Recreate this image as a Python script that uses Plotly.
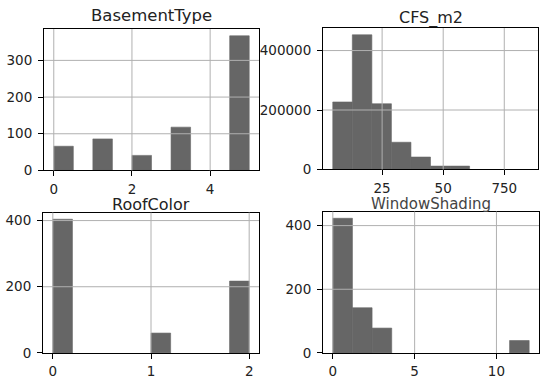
import plotly.graph_objects as go

# ---------------- data ----------------
titles = ["BasementType", "CFS_m2", "RoofColor", "WindowShading"]

basement_edges = [0, 0.5, 1, 1.5, 2, 2.5, 3, 3.5, 4, 4.5, 5]
basement_counts = [66, 0, 86, 0, 41, 0, 118, 0, 0, 367]

cfs_edges = [48, 128, 208, 288, 368, 448, 528, 608, 688, 768, 848]
cfs_counts = [227000, 453000, 221000, 91500, 41700, 11200, 11200, 0, 0, 0]

roof_edges = [0, 0.2, 0.4, 0.6, 0.8, 1.0, 1.2, 1.4, 1.6, 1.8, 2.0]
roof_counts = [404, 0, 0, 0, 0, 60, 0, 0, 0, 217]

window_edges = [0, 1.2, 2.4, 3.6, 4.8, 6.0, 7.2, 8.4, 9.6, 10.8, 12.0]
window_counts = [423, 142, 78, 0, 0, 0, 0, 0, 0, 39]

basement_xticks = [0, 2, 4]
basement_xlabels = ["0", "2", "4"]
basement_yticks = [0, 100, 200, 300]

cfs_xticks = [250, 500, 750]
cfs_xlabels = ["25", "50", "750"]
cfs_yticks = [0, 200000, 400000]

roof_xticks = [0, 1, 2]
roof_xlabels = ["0", "1", "2"]
roof_yticks = [0, 200, 400]

window_xticks = [0, 5, 10]
window_xlabels = ["0", "5", "10"]
window_yticks = [0, 200, 400]

# ---------------- layout helpers ----------------
W, H = 550, 392          # the photographed viewport is slightly taller than 383
REF_H = 383
BAR = "#666666"
GRID = "#b0b0b0"
FONT = "DejaVu Sans"

# axes boxes in reference pixels: (left, right, top, bottom)
boxes = [(44, 259, 29, 170), (323, 538, 28, 169), (43, 259, 212, 352), (323, 539, 211, 352)]
title_y = [15, 18, 204, 203]
title_size = [16.5, 16, 16, 15]
title_color = ["#222", "#222", "#222", "#444"]


def px_x(p):
    return p / W


def px_y(p):
    return 1 - (p * H / REF_H) / H


panels = [
    (basement_edges, basement_counts, basement_xticks, basement_xlabels, basement_yticks),
    (cfs_edges, cfs_counts, cfs_xticks, cfs_xlabels, cfs_yticks),
    (roof_edges, roof_counts, roof_xticks, roof_xlabels, roof_yticks),
    (window_edges, window_counts, window_xticks, window_xlabels, window_yticks),
]

fig = go.Figure()
shapes = []
annotations = []
layout = dict(
    width=W, height=H, margin=dict(l=0, r=0, t=0, b=0),
    paper_bgcolor="white", plot_bgcolor="white", showlegend=False,
    font=dict(family=FONT, size=13.5, color="#222"),
)

for i, (edges, counts, xt, xl, yt) in enumerate(panels):
    n = i + 1
    sfx = "" if n == 1 else str(n)
    centers = [(edges[k] + edges[k + 1]) / 2 for k in range(len(counts))]
    widths = [edges[k + 1] - edges[k] for k in range(len(counts))]
    # empty bins are left undrawn (no outline along the baseline)
    heights = [c if c > 0 else None for c in counts]
    fig.add_trace(go.Bar(
        x=centers, y=heights, width=widths,
        marker=dict(color=BAR, line=dict(width=0.6, color=BAR)),
        xaxis="x" + sfx, yaxis="y" + sfx, hoverinfo="skip",
    ))
    span = edges[-1] - edges[0]
    xr = [edges[0] - 0.05 * span, edges[-1] + 0.05 * span]
    yr = [0, max(counts) * 1.05]
    l, r, t, b = boxes[i]
    common = dict(
        showline=True, linecolor="black", linewidth=1, mirror=True,
        ticks="outside", ticklen=5, tickwidth=1, tickcolor="black",
        showgrid=False, zeroline=False, fixedrange=True,
        tickfont=dict(family=FONT, size=13.5, color="#222"),
    )
    layout["xaxis" + sfx] = dict(
        common, domain=[px_x(l), px_x(r)], range=xr, anchor="y" + sfx,
        tickmode="array", tickvals=xt, ticktext=xl, ticklabelstandoff=1,
    )
    layout["yaxis" + sfx] = dict(
        common, domain=[px_y(b), px_y(t)], range=yr, anchor="x" + sfx,
        tickmode="array", tickvals=yt, ticktext=[str(v) for v in yt],
        ticklabelstandoff=3,
    )
    # gridlines drawn above bars, as matplotlib does
    for v in xt:
        shapes.append(dict(type="line", xref="x" + sfx, yref="y" + sfx + " domain",
                           x0=v, x1=v, y0=0, y1=1, layer="above",
                           line=dict(color=GRID, width=1)))
    for v in yt:
        if v == 0:
            continue
        shapes.append(dict(type="line", xref="x" + sfx + " domain", yref="y" + sfx,
                           x0=0, x1=1, y0=v, y1=v, layer="above",
                           line=dict(color=GRID, width=1)))
    annotations.append(dict(
        text=titles[i], xref="paper", yref="paper",
        x=px_x((l + r) / 2), y=px_y(title_y[i]),
        xanchor="center", yanchor="middle", showarrow=False,
        font=dict(family=FONT, size=title_size[i], color=title_color[i]),
    ))

layout["shapes"] = shapes
layout["annotations"] = annotations
fig.update_layout(**layout)

# remove the browser's default body margin so the figure fills the window exactly
fix_page = (
    "document.documentElement.style.margin='0';"
    "document.body.style.margin='0';"
    "document.documentElement.style.overflow='hidden';"
    "document.body.style.overflow='hidden';"
)
fig.write_html("out.html", post_script=fix_page,
               config={"displayModeBar": False, "staticPlot": True})
